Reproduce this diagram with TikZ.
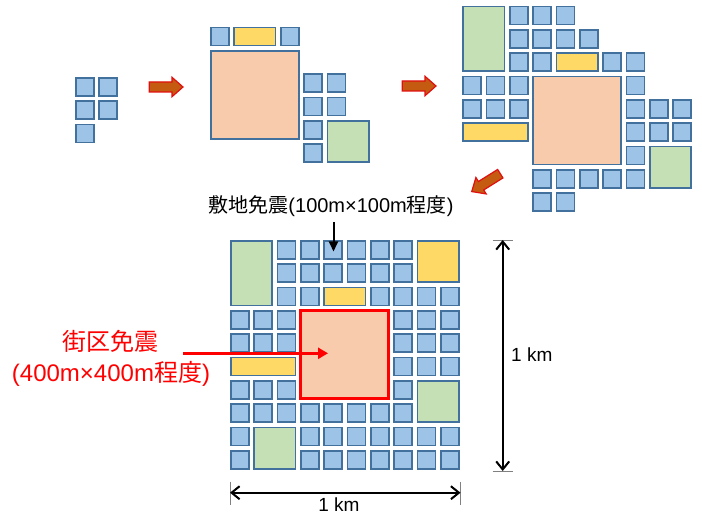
\documentclass[tikz,border=0pt]{standalone}
\usepackage{fontspec}
\setmainfont{Liberation Sans}
\newfontfamily\cjk{Noto Sans CJK JP}
\usetikzlibrary{arrows.meta}
\definecolor{bfill}{HTML}{9DC3E6}
\definecolor{bline}{HTML}{41719C}
\definecolor{ofill}{HTML}{F8CBAD}
\definecolor{yfill}{HTML}{FFD966}
\definecolor{gfill}{HTML}{C5E0B4}
\definecolor{arrfill}{HTML}{C55A11}
\definecolor{arrline}{HTML}{E01010}
\definecolor{tickgray}{HTML}{808080}
\def\cellsz{0.77}
\newcommand\cel[5][bcell]{\draw[#1] (#2,#3) rectangle ++({#4-1+\cellsz},{#5-1+\cellsz});}
\newcommand\brow[2]{\foreach \ci in {#2} {\cel{\ci}{#1}{1}{1}}}
\tikzset{
  bcell/.style={fill=bfill, draw=bline, line width=1.6pt},
  ocell/.style={fill=ofill, draw=bline, line width=1.6pt},
  ycell/.style={fill=yfill, draw=bline, line width=1.6pt},
  gcell/.style={fill=gfill, draw=bline, line width=1.6pt},
  rcell/.style={fill=ofill, draw=red, line width=2.8pt},
  grid/.style={x=23.333pt, y=-23.333pt},
  barrow/.style={fill=arrfill, draw=arrline, line width=1.2pt, line join=miter},
  dimline/.style={line width=2pt, {Straight Barb[length=8pt,width=13pt]}-{Straight Barb[length=8pt,width=13pt]}},
  tickline/.style={draw=tickgray, line width=0.9pt},
  lbl/.style={font=\fontsize{20}{24}\selectfont, inner sep=0pt},
  redlbl/.style={text=red, font=\fontsize{24}{28}\selectfont, inner sep=0pt},
  kmlbl/.style={font=\fontsize{19}{22}\selectfont, inner sep=0pt}
}
\newcommand\barrowshape{\draw[barrow] (0,-5) -- (22.7,-5) -- (22.7,-9.7) -- (33.7,0) -- (22.7,9.7) -- (22.7,5) -- (0,5) -- cycle;}
\begin{document}
\begin{tikzpicture}[x=1pt, y=-1pt]
\useasboundingbox (0,0) rectangle (702,513);
% cluster 1
\begin{scope}[shift={(75.8,77.8)}, grid]
  \brow{0}{0,1}
  \brow{1}{0,1}
  \brow{2}{0}
\end{scope}
% arrow 1
\begin{scope}[shift={(149.3,87)}]
  \barrowshape
\end{scope}
% cluster 2
\begin{scope}[shift={(210.8,27.5)}, grid]
  \brow{0}{0,3}
  \cel[ycell]{1}{0}{2}{1}
  \cel[ocell]{0}{1}{4}{4}
  \brow{2}{4,5}
  \brow{3}{4,5}
  \brow{4}{4}
  \cel[gcell]{5}{4}{2}{2}
  \brow{5}{4}
\end{scope}
% arrow 2
\begin{scope}[shift={(402.3,86)}]
  \barrowshape
\end{scope}
% cluster 3
\begin{scope}[shift={(463.1,6.5)}, grid]
  \cel[gcell]{0}{0}{2}{3}
  \brow{0}{2,3,4}
  \brow{1}{2,3,4,5}
  \brow{2}{2,3,6,7}
  \cel[ycell]{4}{2}{2}{1}
  \brow{3}{0,1,2,7}
  \cel[ocell]{3}{3}{4}{4}
  \brow{4}{0,1,2,7,8,9}
  \cel[ycell]{0}{5}{3}{1}
  \brow{5}{7,8,9}
  \brow{6}{7}
  \cel[gcell]{8}{6}{2}{2}
  \brow{7}{3,4,5,6,7}
  \brow{8}{3,4}
\end{scope}
% arrow 3 (diagonal)
\begin{scope}[shift={(500.3,173.7)}, rotate=212]
  \barrowshape
\end{scope}
% bottom grid
\begin{scope}[shift={(230.8,240.8)}, grid]
  \cel[gcell]{0}{0}{2}{3}
  \brow{0}{2,3,4,5,6,7}
  \cel[ycell]{8}{0}{2}{2}
  \brow{1}{2,3,4,5,6,7}
  \brow{2}{2,3,6,7,8,9}
  \cel[ycell]{4}{2}{2}{1}
  \brow{3}{0,1,2,7,8,9}
  \brow{4}{0,1,2,7,8,9}
  \cel[ycell]{0}{5}{3}{1}
  \brow{5}{7,8,9}
  \brow{6}{0,1,2,7}
  \cel[gcell]{8}{6}{2}{2}
  \brow{7}{0,1,2,3,4,5,6,7}
  \brow{8}{0,3,4,5,6,7,8,9}
  \cel[gcell]{1}{8}{2}{2}
  \brow{9}{0,3,4,5,6,7,8,9}
  \cel[rcell]{3}{3}{4}{4}
\end{scope}
% labels
\node[lbl, anchor=base] (toplbl) at (331,212.5) {{\cjk 敷地免震}(100m×100m{\cjk 程度})};
\coordinate (bstart) at (333.5,222);
\coordinate (btip) at (333.5,251.5);
\draw[line width=2pt, -{Triangle[length=10pt,width=9pt]}] (bstart) -- (btip);
\node[redlbl, anchor=base] (redl1) at (110.5,350.5) {{\cjk 街区免震}};
\node[redlbl, anchor=base] (redl2) at (111,381.5) {(400m×400m{\cjk 程度})};
\coordinate (rstart) at (183,353.3);
\coordinate (rtip) at (328,353.3);
\draw[red, line width=2.5pt, -{Triangle[length=10pt,width=11pt]}] (rstart) -- (rtip);
% dimensions
\coordinate (hl) at (230,492.7);
\coordinate (hr) at (460.5,492.7);
\draw[tickline] (230,481.7) -- (230,505);
\draw[tickline] (460.5,481.7) -- (460.5,505);
\draw[dimline] (hl) -- (hr);
\node[kmlbl] (hkm) at (339,504.5) {1 km};
\coordinate (vt) at (502.7,240);
\coordinate (vb) at (502.7,471);
\draw[tickline] (492.7,240) -- (513.3,240);
\draw[tickline] (492.7,471) -- (513.3,471);
\draw[dimline] (vt) -- (vb);
\node[kmlbl, anchor=west] (vkm) at (511,355) {1 km};
\end{tikzpicture}
\end{document}
